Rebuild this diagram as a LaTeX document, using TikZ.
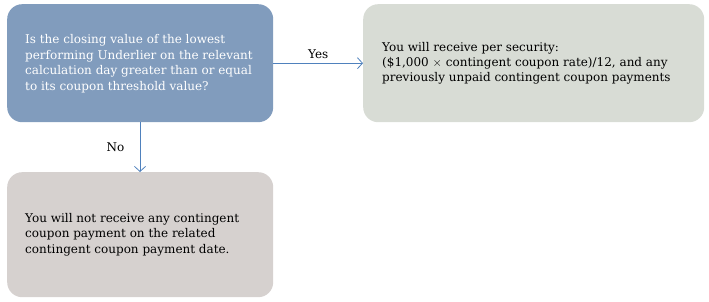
\documentclass[tikz,border=0pt]{standalone}
\usepackage{fontspec}
\setmainfont{DejaVu Serif}
\usetikzlibrary{arrows.meta}
\definecolor{qblue}{RGB}{129,156,189}
\definecolor{yesgray}{RGB}{216,220,213}
\definecolor{nogray}{RGB}{214,209,207}
\definecolor{linkblue}{RGB}{79,129,189}
\tikzset{
  box/.style={rectangle, rounded corners=15pt, minimum width=266pt, minimum height=118pt,
    inner sep=0pt, anchor=north west},
  txt/.style={align=left, anchor=west, inner sep=0pt, font=\fontsize{12}{15.4}\selectfont},
  link/.style={draw=linkblue, line width=0.8pt, -{Straight Barb[length=5pt,width=11pt]}},
  lab/.style={font=\fontsize{12}{15}\selectfont, text=black}
}
\begin{document}
\begin{tikzpicture}[x=1pt,y=1pt]
\useasboundingbox (0,0) rectangle (709,-302);
\node[box, fill=qblue] (q) at (7,-4) {};
\node[box, fill=yesgray, minimum width=341pt] (yes) at (363,-4) {};
\node[box, fill=nogray, minimum height=125pt] (no) at (7,-172) {};
\node[txt, text=white] (qt) at ([xshift=18pt,yshift=-0.5pt]q.west)
  {Is the closing value of the lowest\\performing Underlier on the relevant\\calculation day greater than or equal\\to its coupon threshold value?};
\node[txt, text=black] (yt) at ([xshift=19pt]yes.west)
  {You will receive per security:\\(\$1,000 $\times$ contingent coupon rate)/12, and any\\previously unpaid contingent coupon payments};
\node[txt, text=black] (nt) at ([xshift=18pt]no.west)
  {You will not receive any contingent\\coupon payment on the related\\contingent coupon payment date.};
\draw[link] (q.east) -- node[lab, above=1pt] (ylab) {Yes} (yes.west);
\draw[link] (q.south -| 140,0) -- node[lab, left=12pt] (nlab) {No} (no.north -| 140,0);
\end{tikzpicture}
\end{document}
